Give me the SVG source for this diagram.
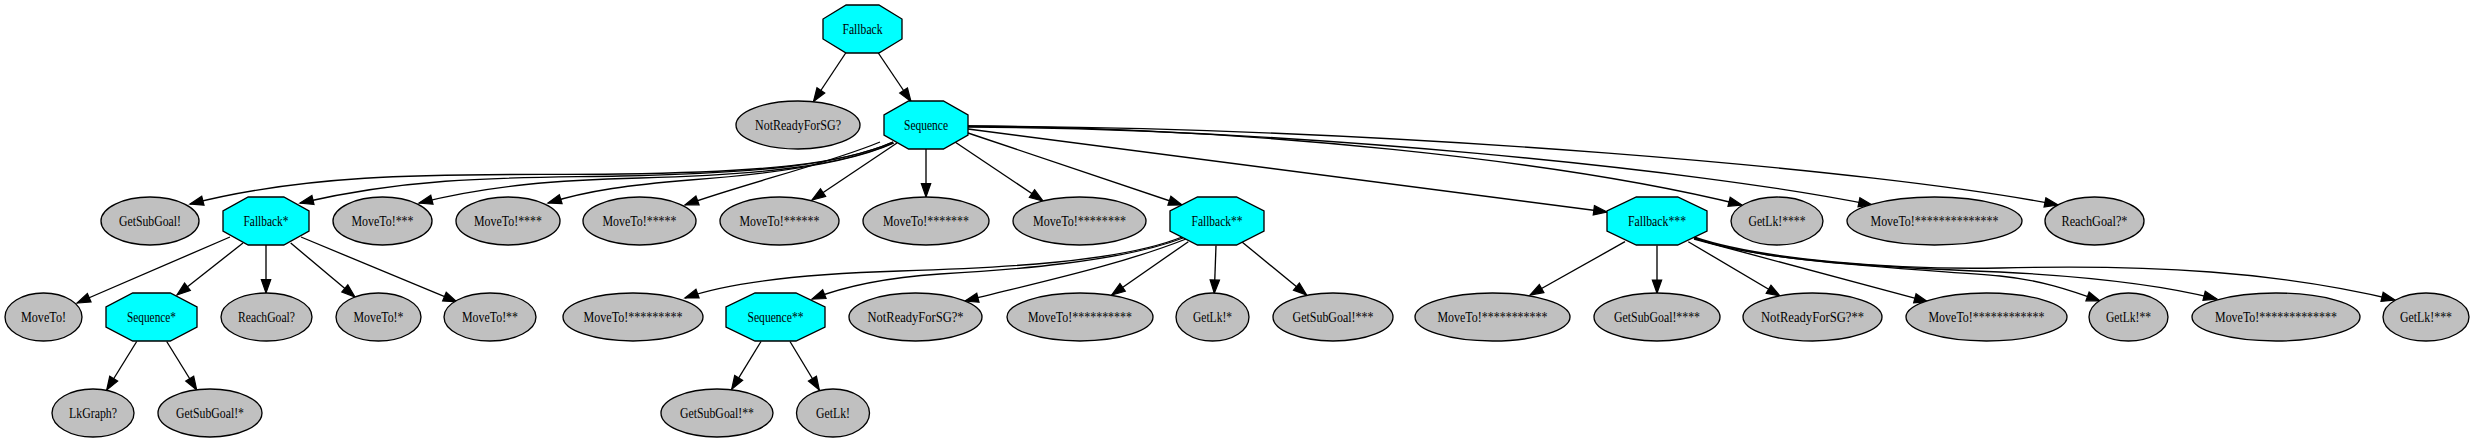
<svg xmlns="http://www.w3.org/2000/svg" width="2475" height="443" viewBox="0 0 2475 443">
<defs>
<marker id="ah" markerUnits="userSpaceOnUse" markerWidth="14" markerHeight="10" refX="13.3" refY="4.67" orient="auto" overflow="visible"><path d="M0,0 L13.3,4.67 L0,9.33 z" fill="#000" stroke="#000" stroke-width="1.2"/></marker>
</defs>
<style>
.e{fill:none;stroke:#000;stroke-width:1.33;marker-end:url(#ah)}
.oct{fill:#00ffff;stroke:#000;stroke-width:1.33}
.ell{fill:#c0c0c0;stroke:#000;stroke-width:1.33}
text{font-family:"Liberation Serif","Times New Roman",serif;font-size:14.67px;fill:#000;text-anchor:middle}
</style>
<rect width="2475" height="443" fill="#fff"/>
<g id="edges">
<path class="e" d="M845.7,53 L813.5,101.5"/>
<path class="e" d="M878.3,53 L911,101.5"/>
<path class="e" d="M893,142 C840,165 760,172 620,174 C480,176 330,168 190,204"/>
<path class="e" d="M893,142 C840,165 760,173 620,176 C520,178 420,175 300,203"/>
<path class="e" d="M893,143 C840,166 760,175 640,178 C560,180 490,185 419,203"/>
<path class="e" d="M894,143 C850,163 770,174 690,180 C630,185 590,190 548,203"/>
<path class="e" d="M880,142 C830,163 740,185 685,205"/>
<path class="e" d="M897,143 L812,200"/>
<path class="e" d="M926,149 L926,197"/>
<path class="e" d="M955,142 L1043,201"/>
<path class="e" d="M968,133 L1182,205"/>
<path class="e" d="M968,129 L1607,212"/>
<path class="e" d="M968,126 C1250,128 1560,160 1742,205"/>
<path class="e" d="M968,127 C1300,129 1700,170 1872,205"/>
<path class="e" d="M968,126 C1400,128 1880,170 2058,205"/>
<path class="e" d="M230,237 L77,303"/>
<path class="e" d="M243,243 L177,295"/>
<path class="e" d="M266,245 L266,293"/>
<path class="e" d="M290.7,243 L355,297"/>
<path class="e" d="M301,237 L456.7,301.7"/>
<path class="e" d="M136.7,341.5 L106.7,390"/>
<path class="e" d="M166.7,341.5 L196.7,390"/>
<path class="e" d="M761,341.5 L731.7,389.3"/>
<path class="e" d="M790,341.5 L819.3,390"/>
<path class="e" d="M1182,237 C1120,262 1000,268 900,271 C800,274 730,282 685,298"/>
<path class="e" d="M1183,238 C1120,262 1010,270 940,274 C880,278 840,288 812,299"/>
<path class="e" d="M1186,239 C1120,265 1040,282 965,301"/>
<path class="e" d="M1188.3,241.7 L1111.7,295"/>
<path class="e" d="M1216,245.5 L1214.3,293.3"/>
<path class="e" d="M1241.7,241.7 L1306.7,295"/>
<path class="e" d="M1625,241.7 L1530,295"/>
<path class="e" d="M1657,245.5 L1657,293.3"/>
<path class="e" d="M1688.3,241.7 L1780,296"/>
<path class="e" d="M1694,239 L1927.7,301.7"/>
<path class="e" d="M1694,238 C1760,262 1900,268 2000,276 C2040,280 2070,290 2100,301"/>
<path class="e" d="M1694,238 C1760,262 1900,268 2000,272 C2100,277 2170,287 2217,299"/>
<path class="e" d="M1694,237 C1760,260 1900,270 2000,268 C2150,264 2280,272 2395,300"/>
</g>
<g id="n_fallback"><polygon class="oct" points="846.1,5 878.9,5 902,19 902,39 878.9,53 846.1,53 823,39 823,19"/><text x="862.5" y="33.5" textLength="40" lengthAdjust="spacingAndGlyphs">Fallback</text></g>
<g id="n_notready"><ellipse class="ell" cx="798" cy="125" rx="62" ry="24"/><text x="798" y="129.5" textLength="86" lengthAdjust="spacingAndGlyphs">NotReadyForSG?</text></g>
<g id="n_sequence"><polygon class="oct" points="908.6,101 943.4,101 968,115 968,135 943.4,149 908.6,149 884,135 884,115"/><text x="926" y="129.5" textLength="44" lengthAdjust="spacingAndGlyphs">Sequence</text></g>
<g id="n_getsubgoal"><ellipse class="ell" cx="150" cy="221" rx="49" ry="24"/><text x="150" y="225.5" textLength="62" lengthAdjust="spacingAndGlyphs">GetSubGoal!</text></g>
<g id="n_fallback1"><polygon class="oct" points="248.2,197 283.8,197 309,211 309,231 283.8,245 248.2,245 223,231 223,211"/><text x="266" y="225.5" textLength="45" lengthAdjust="spacingAndGlyphs">Fallback*</text></g>
<g id="n_moveto3"><ellipse class="ell" cx="382.5" cy="221" rx="49.5" ry="24"/><text x="382.5" y="225.5" textLength="62" lengthAdjust="spacingAndGlyphs">MoveTo!***</text></g>
<g id="n_moveto4"><ellipse class="ell" cx="508" cy="221" rx="52" ry="24"/><text x="508" y="225.5" textLength="68" lengthAdjust="spacingAndGlyphs">MoveTo!****</text></g>
<g id="n_moveto5"><ellipse class="ell" cx="639.5" cy="221" rx="56.5" ry="24"/><text x="639.5" y="225.5" textLength="74" lengthAdjust="spacingAndGlyphs">MoveTo!*****</text></g>
<g id="n_moveto6"><ellipse class="ell" cx="779.5" cy="221" rx="59.5" ry="24"/><text x="779.5" y="225.5" textLength="80" lengthAdjust="spacingAndGlyphs">MoveTo!******</text></g>
<g id="n_moveto7"><ellipse class="ell" cx="926" cy="221" rx="63" ry="24"/><text x="926" y="225.5" textLength="86" lengthAdjust="spacingAndGlyphs">MoveTo!*******</text></g>
<g id="n_moveto8"><ellipse class="ell" cx="1079.5" cy="221" rx="66.5" ry="24"/><text x="1079.5" y="225.5" textLength="93" lengthAdjust="spacingAndGlyphs">MoveTo!********</text></g>
<g id="n_fallback2"><polygon class="oct" points="1197.5,197 1236.5,197 1264,211 1264,231 1236.5,245 1197.5,245 1170,231 1170,211"/><text x="1217" y="225.5" textLength="51" lengthAdjust="spacingAndGlyphs">Fallback**</text></g>
<g id="n_fallback3"><polygon class="oct" points="1636.3,197 1677.7,197 1707,211 1707,231 1677.7,245 1636.3,245 1607,231 1607,211"/><text x="1657" y="225.5" textLength="58" lengthAdjust="spacingAndGlyphs">Fallback***</text></g>
<g id="n_getlk4"><ellipse class="ell" cx="1777" cy="221" rx="46" ry="24"/><text x="1777" y="225.5" textLength="57" lengthAdjust="spacingAndGlyphs">GetLk!****</text></g>
<g id="n_moveto14"><ellipse class="ell" cx="1934.5" cy="221" rx="87.5" ry="24"/><text x="1934.5" y="225.5" textLength="128" lengthAdjust="spacingAndGlyphs">MoveTo!**************</text></g>
<g id="n_reachgoal1"><ellipse class="ell" cx="2094.5" cy="221" rx="49.5" ry="24"/><text x="2094.5" y="225.5" textLength="66" lengthAdjust="spacingAndGlyphs">ReachGoal?*</text></g>
<g id="n_moveto0"><ellipse class="ell" cx="43.5" cy="317" rx="38.5" ry="24"/><text x="43.5" y="321.5" textLength="45" lengthAdjust="spacingAndGlyphs">MoveTo!</text></g>
<g id="n_sequence1"><polygon class="oct" points="132.7,293 170.3,293 197,307 197,327 170.3,341 132.7,341 106,327 106,307"/><text x="151.5" y="321.5" textLength="49" lengthAdjust="spacingAndGlyphs">Sequence*</text></g>
<g id="n_reachgoal"><ellipse class="ell" cx="266.5" cy="317" rx="45.5" ry="24"/><text x="266.5" y="321.5" textLength="57" lengthAdjust="spacingAndGlyphs">ReachGoal?</text></g>
<g id="n_moveto1"><ellipse class="ell" cx="378.5" cy="317" rx="42.5" ry="24"/><text x="378.5" y="321.5" textLength="50" lengthAdjust="spacingAndGlyphs">MoveTo!*</text></g>
<g id="n_moveto2"><ellipse class="ell" cx="490" cy="317" rx="46" ry="24"/><text x="490" y="321.5" textLength="56" lengthAdjust="spacingAndGlyphs">MoveTo!**</text></g>
<g id="n_moveto9"><ellipse class="ell" cx="633" cy="317" rx="70" ry="24"/><text x="633" y="321.5" textLength="99" lengthAdjust="spacingAndGlyphs">MoveTo!*********</text></g>
<g id="n_sequence2"><polygon class="oct" points="755,293 796,293 825,307 825,327 796,341 755,341 726,327 726,307"/><text x="775.5" y="321.5" textLength="56" lengthAdjust="spacingAndGlyphs">Sequence**</text></g>
<g id="n_notready1"><ellipse class="ell" cx="915.5" cy="317" rx="66.5" ry="24"/><text x="915.5" y="321.5" textLength="96" lengthAdjust="spacingAndGlyphs">NotReadyForSG?*</text></g>
<g id="n_moveto10"><ellipse class="ell" cx="1080" cy="317" rx="73" ry="24"/><text x="1080" y="321.5" textLength="104" lengthAdjust="spacingAndGlyphs">MoveTo!**********</text></g>
<g id="n_getlk1"><ellipse class="ell" cx="1212.5" cy="317" rx="36.5" ry="24"/><text x="1212.5" y="321.5" textLength="39" lengthAdjust="spacingAndGlyphs">GetLk!*</text></g>
<g id="n_getsubgoal3"><ellipse class="ell" cx="1333" cy="317" rx="60" ry="24"/><text x="1333" y="321.5" textLength="81" lengthAdjust="spacingAndGlyphs">GetSubGoal!***</text></g>
<g id="n_moveto11"><ellipse class="ell" cx="1492.5" cy="317" rx="77.5" ry="24"/><text x="1492.5" y="321.5" textLength="110" lengthAdjust="spacingAndGlyphs">MoveTo!***********</text></g>
<g id="n_getsubgoal4"><ellipse class="ell" cx="1657" cy="317" rx="63" ry="24"/><text x="1657" y="321.5" textLength="86" lengthAdjust="spacingAndGlyphs">GetSubGoal!****</text></g>
<g id="n_notready2"><ellipse class="ell" cx="1812.5" cy="317" rx="69.5" ry="24"/><text x="1812.5" y="321.5" textLength="103" lengthAdjust="spacingAndGlyphs">NotReadyForSG?**</text></g>
<g id="n_moveto12"><ellipse class="ell" cx="1986.5" cy="317" rx="80.5" ry="24"/><text x="1986.5" y="321.5" textLength="116" lengthAdjust="spacingAndGlyphs">MoveTo!************</text></g>
<g id="n_getlk2"><ellipse class="ell" cx="2128.5" cy="317" rx="39.5" ry="24"/><text x="2128.5" y="321.5" textLength="45" lengthAdjust="spacingAndGlyphs">GetLk!**</text></g>
<g id="n_moveto13"><ellipse class="ell" cx="2276" cy="317" rx="84" ry="24"/><text x="2276" y="321.5" textLength="122" lengthAdjust="spacingAndGlyphs">MoveTo!*************</text></g>
<g id="n_getlk3"><ellipse class="ell" cx="2426" cy="317" rx="43" ry="24"/><text x="2426" y="321.5" textLength="52" lengthAdjust="spacingAndGlyphs">GetLk!***</text></g>
<g id="n_lkgraph"><ellipse class="ell" cx="93" cy="413" rx="41" ry="24"/><text x="93" y="417.5" textLength="48" lengthAdjust="spacingAndGlyphs">LkGraph?</text></g>
<g id="n_getsubgoal1"><ellipse class="ell" cx="210" cy="413" rx="52" ry="24"/><text x="210" y="417.5" textLength="68" lengthAdjust="spacingAndGlyphs">GetSubGoal!*</text></g>
<g id="n_getsubgoal2"><ellipse class="ell" cx="717" cy="413" rx="56" ry="24"/><text x="717" y="417.5" textLength="74" lengthAdjust="spacingAndGlyphs">GetSubGoal!**</text></g>
<g id="n_getlk"><ellipse class="ell" cx="833" cy="413" rx="36.5" ry="24"/><text x="833" y="417.5" textLength="34" lengthAdjust="spacingAndGlyphs">GetLk!</text></g>
</svg>
